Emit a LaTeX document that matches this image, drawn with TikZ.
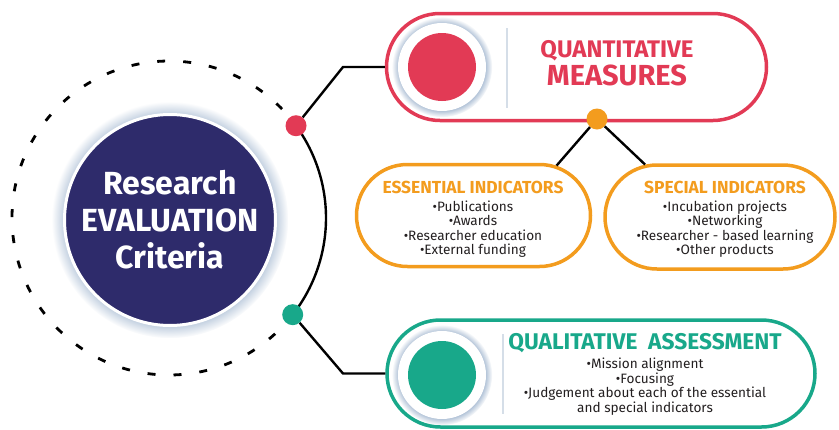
\documentclass[tikz,border=0pt]{standalone}
\usepackage{fontspec}
\setmainfont{Fira Sans}
\usetikzlibrary{positioning,shapes.misc,shadows}
\definecolor{qred}{HTML}{E23A55}
\definecolor{qorange}{HTML}{F39C1E}
\definecolor{qgreen}{HTML}{18A88A}
\definecolor{navy}{HTML}{2E2B6B}
\definecolor{glowblue}{HTML}{A9BCD3}
\definecolor{sepgray}{HTML}{D5DEE8}
\definecolor{ink}{HTML}{231F20}
\begin{document}
\begin{tikzpicture}[x=1pt, y=-1pt,
  wire/.style = {line width=2.4pt, black},
  dot/.style = {circle, inner sep=0pt, minimum size=21pt},
  pill/.style = {rounded rectangle, fill=white, line width=3.5pt,
    inner sep=0pt, drop shadow={opacity=0.12, shadow xshift=0pt, shadow yshift=-1.5pt}},
  hub/.style = {circle, fill=navy, draw=white, line width=3pt,
    minimum size=211pt, inner sep=0pt, text=white, align=center,
    font=\bfseries\fontsize{32}{37}\selectfont,
    circular glow={fill=glowblue, shadow scale=1.12}},
  socket/.style = {circle, fill=white, inner sep=0pt, minimum size=88pt,
    circular glow={fill=glowblue, shadow scale=1.14}},
  core/.style = {circle, inner sep=0pt, minimum size=68pt},
  head/.style = {font=\bfseries\fontsize{17.4}{17.4}\selectfont, inner sep=0pt},
  list/.style = {font=\fontsize{13.6}{14.5}\selectfont, align=center,
    inner sep=0pt, text=ink},
  sep/.style = {line width=1.5pt, sepgray}]

  \useasboundingbox (0,0) rectangle (839,429);

  \coordinate (ctr) at (169,218);
  \draw[wire, line width=2.8pt, dash pattern=on 8pt off 18pt]
    ([shift={(38:157)}]ctr) arc[start angle=38, end angle=324, radius=157];
  \draw[wire] ([shift={(-36:157)}]ctr) arc[start angle=-36, end angle=38, radius=157];

  \node[hub] (hub) at (170,220) {Research\\EVALUATION\\Criteria};

  \node[pill, draw=qred, minimum width=380pt, minimum height=107pt] (qnt) at (576.5,67) {};
  \node[pill, draw=qorange, minimum width=234pt, minimum height=102pt] (ess) at (473.5,215.5) {};
  \node[pill, draw=qorange, minimum width=230pt, minimum height=104pt] (spc) at (720,217) {};
  \node[pill, draw=qgreen, minimum width=428pt, minimum height=107pt] (qlt) at (601,373.5) {};

  \coordinate (qbend) at (343,67);
  \coordinate (lbend) at (343,373.5);
  \node[dot, fill=qred] (rdot) at ([shift={(-36:157)}]ctr) {};
  \node[dot, fill=qgreen] (gdot) at ([shift={(38:157)}]ctr) {};
  \node[dot, fill=qorange] (odot) at (597,119) {};
  \draw[wire] (rdot) -- (qbend) -- (qnt.west);
  \draw[wire] (gdot) -- (lbend) -- (qlt.west);
  \draw[wire] (odot) -- (ess.31);
  \draw[wire] (odot) -- (spc.145);

  \node[socket] (qsock) at (442,67) {};
  \node[core, fill=qred] (qcore) at (qsock) {};
  \node[socket] (lsock) at (442,375) {};
  \node[core, fill=qgreen] (lcore) at (lsock) {};
  \draw[sep] (507,28) -- (507,108);
  \draw[sep] (503,334) -- (503,414);

  \node[head, text=qred, font=\bfseries\fontsize{24}{24}\selectfont] (qnthead) at (617,51) {QUANTITATIVE};
  \node[head, text=qred, font=\bfseries\fontsize{29}{29}\selectfont] (qntsub) at (617,75) {MEASURES};

  \node[head, text=qorange] (esshead) at (473,187) {ESSENTIAL INDICATORS};
  \node[list, below=7pt of esshead] (esslist)
    {•Publications\\•Awards\\•Researcher education\\•External funding};

  \node[head, text=qorange] (spchead) at (725,187) {SPECIAL INDICATORS};
  \node[list, below=7pt of spchead] (spclist)
    {•Incubation projects\\•Networking\\•Researcher - based learning\\•Other products};

  \node[head, text=qgreen, font=\bfseries\fontsize{22.7}{22.7}\selectfont] (qlthead) at (645,343) {QUALITATIVE\ \ ASSESSMENT};
  \node[list, below=5pt of qlthead] (qltlist)
    {•Mission alignment\\•Focusing\\•Judgement about each of the essential\\and special indicators};
\end{tikzpicture}
\end{document}
